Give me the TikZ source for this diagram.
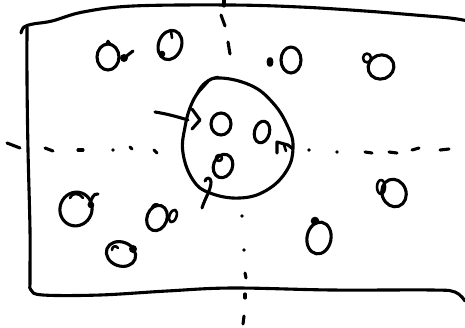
\documentclass[tikz,border=0pt]{standalone}
\begin{document}
\begin{tikzpicture}[x=1pt,y=-1pt,
  ink/.style={line width=3.1pt,line cap=round,line join=round},
  thin ink/.style={line width=2.6pt,line cap=round,line join=round},
  blob/.style={fill=black}]
\useasboundingbox (0,0) rectangle (465,327);
% outer sheet
\draw[ink] plot[smooth,tension=0.6] coordinates {(21,33) (24,27) (33,24) (52,21) (83,12) (133,6) (230,5) (300,7) (365,11) (415,15) (450,18) (468,21)};
\draw[ink] plot[smooth,tension=0.6] coordinates {(27,27) (27,80) (28,150) (30,230) (30,280) (31,290) (43,295) (100,295) (167,291) (232,288) (332,290) (432,290) (455,292) (465,301)};
% vertical dashed axis
\draw[ink] (224,0) -- (224,6);
\draw[ink] (221,15) -- (225,26);
\draw[ink] (228,42) -- (230,54);
\foreach \p in {(242,216),(244,250)} \fill \p circle (1.9);
\draw[ink] (245,273) -- (246,278);
\draw[ink] (245,294) -- (245,298);
\draw[ink] (244,316) -- (243,324);
% horizontal dashed axis
\draw[ink] (7,143) -- (20,148);
\draw[ink] (45,148) -- (53,151);
\draw[ink] (78,150) -- (83,150);
\fill (113,150) circle (1.9);
\draw[ink] (130,147) -- (132,149);
\draw[ink] (154,150) -- (157,153);
\fill (309,150) circle (1.9);
\fill (337,152) circle (1.9);
\draw[ink] (365,152) -- (372,153);
\draw[ink] (389,152) -- (397,153);
\draw[ink] (412,150) -- (419,148);
\draw[ink] (440,150) -- (449,149);
% central region
\draw[ink] plot[smooth cycle,tension=0.7] coordinates {(217,78) (250,85) (273,103) (288,127) (293,147) (287,170) (267,190) (240,198) (210,193) (193,180) (183,153) (185,127) (192,103) (203,87)};
\draw[thin ink] (197,94) .. controls (201,84) and (208,79) .. (218,77);
% pointer from left
\draw[ink] (155,112) .. controls (168,114) and (178,117) .. (188,120);
\draw[ink] (192,109) -- (200,120) -- (192,129);
% hook from below
\draw[ink] (202,208) .. controls (205,198) and (211,190) .. (211,182) .. controls (211,177) and (206,177) .. (205,181);
% right mark on central region
\draw[ink] (277,153) -- (277,142) -- (288,145) -- (293,149);
\draw[thin ink] (284,145) -- (286,151);
% objects inside central region
\draw[ink] (221,124) ellipse [x radius=10, y radius=11];
\draw[ink] (262,132) ellipse [x radius=7.5, y radius=11, rotate=-15];
\draw[ink] (223,166) ellipse [x radius=9.5, y radius=12, rotate=-20];
\draw[thin ink] (219,158) circle (3);
% objects outside
\draw[ink] (108,57) ellipse [x radius=11, y radius=13];
\draw[thin ink] (106,45) -- (108,41) -- (111,45);
\fill (124,58) circle (4);
\draw[ink] (124,58) -- (133,51);
\draw[ink] (170,45) ellipse [x radius=11.5, y radius=15, rotate=-20];
\fill (162,54) circle (3.3);
\draw[thin ink] (171,31) -- (172,38);
\draw[ink] (270,62) ellipse [x radius=1.8, y radius=3.5];
\draw[ink] (291,60) ellipse [x radius=10, y radius=13];
\draw[ink] (381,67) ellipse [x radius=13, y radius=12, rotate=20];
\draw[thin ink] (367,58) ellipse [x radius=4, y radius=4.5];
\draw[ink] (76,209) ellipse [x radius=16, y radius=17, rotate=-20];
\draw[thin ink] (70,198) .. controls (72,193) and (78,192) .. (83,198);
\draw[ink] (89,205) .. controls (92,199) and (93,193) .. (98,194);
\fill (91,205) circle (3.3);
\draw[ink] (157,218) ellipse [x radius=10, y radius=13, rotate=-20];
\draw[thin ink] (152,208) .. controls (153,204) and (157,203) .. (159,206);
\draw[thin ink] (173,216) ellipse [x radius=3.5, y radius=6.5, rotate=-20];
\draw[ink] (121,254) ellipse [x radius=15, y radius=12, rotate=-20];
\draw[thin ink] (112,250) .. controls (112,246) and (116,245) .. (118,248);
\fill (133,249) circle (4);
\draw[ink] (394,193) ellipse [x radius=12, y radius=14, rotate=20];
\draw[thin ink] (381,187) ellipse [x radius=4, y radius=7];
\draw[ink] (319,238) ellipse [x radius=12, y radius=16, rotate=-10];
\fill (315,221) circle (4.3);
\end{tikzpicture}
\end{document}
